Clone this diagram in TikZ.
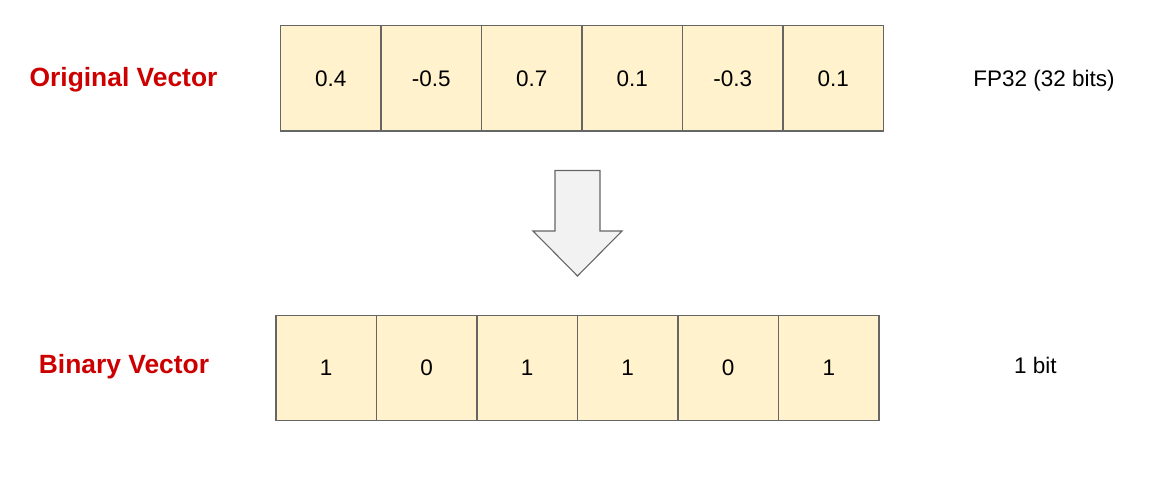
\documentclass[tikz,border=0pt]{standalone}
\usepackage{fontspec}
\setmainfont{Liberation Sans}
\definecolor{cellfill}{HTML}{FFF2CC}
\definecolor{cellline}{HTML}{666666}
\definecolor{arrowfill}{HTML}{F2F2F2}
\definecolor{labelred}{HTML}{CC0000}
\begin{document}
\begin{tikzpicture}[x=1pt,y=-1pt,
  cell/.style={draw=cellline, fill=cellfill, line width=1.3pt, minimum width=100.5pt, minimum height=105.5pt, inner sep=0pt, outer sep=0pt, font=\fontsize{22.5}{27}\selectfont, anchor=west},
  rowlabel/.style={text=labelred, font=\fontsize{26.4}{31}\selectfont\bfseries, inner sep=0pt, anchor=base},
  sidelabel/.style={font=\fontsize{22.5}{27}\selectfont, inner sep=0pt, anchor=base}]
\useasboundingbox (0,0) rectangle (1171,486);
% top row
\node[cell] (t1) at (280.5,78.3) {0.4};
\node[cell] (t2) at (t1.east) {-0.5};
\node[cell] (t3) at (t2.east) {0.7};
\node[cell] (t4) at (t3.east) {0.1};
\node[cell] (t5) at (t4.east) {-0.3};
\node[cell] (t6) at (t5.east) {0.1};
% bottom row
\node[cell] (b1) at (276,368) {1};
\node[cell] (b2) at (b1.east) {0};
\node[cell] (b3) at (b2.east) {1};
\node[cell] (b4) at (b3.east) {1};
\node[cell] (b5) at (b4.east) {0};
\node[cell] (b6) at (b5.east) {1};
% labels
\node[rowlabel] (ol) at (123.5,86.5) {Original Vector};
\node[rowlabel] (bl) at (124,374) {Binary Vector};
\node[sidelabel] (fp) at (1044,86.5) {FP32 (32 bits)};
\node[sidelabel] (ob) at (1035.5,374) {1 bit};
% arrow
\draw[draw=cellline, fill=arrowfill, line width=1.1pt, line join=miter]
  (555,170.5) -- (600,170.5) -- (600,231) -- (622,231) -- (577.5,276) -- (533,231) -- (555,231) -- cycle;
\end{tikzpicture}
\end{document}
